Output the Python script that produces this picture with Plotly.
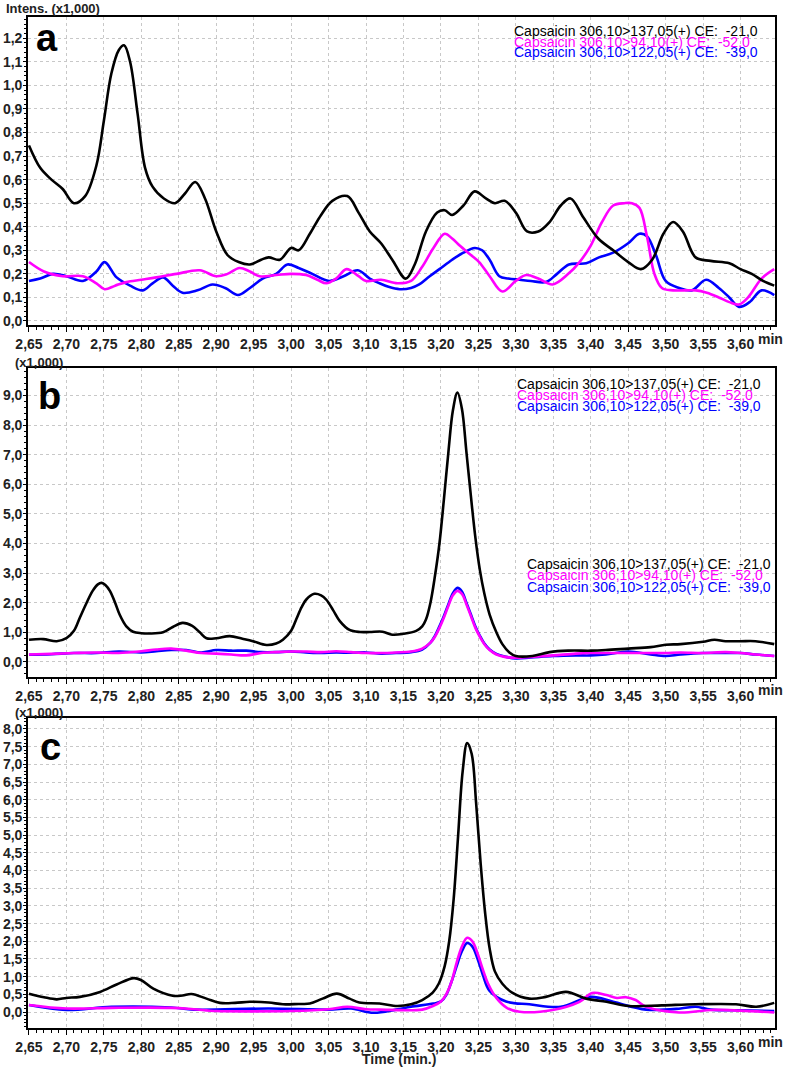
import plotly.graph_objects as go

W, H = 787, 1070

# ---------------- data (intensity in x1,000) ----------------
# Panel a
ta_k = [2.65,2.665,2.68,2.695,2.71,2.725,2.74,2.75,2.76,2.77,
        2.777,2.785,2.795,2.805,2.815,2.83,2.845,2.858,2.872,2.885,
        2.90,2.915,2.93,2.945,2.96,2.97,2.985,3.00,3.01,3.025,
        3.04,3.055,3.075,3.09,3.105,3.12,3.135,3.153,3.165,3.18,
        3.195,3.205,3.215,3.23,3.245,3.26,3.272,3.285,3.30,3.315,
        3.33,3.345,3.36,3.373,3.39,3.41,3.43,3.45,3.467,3.482,
        3.497,3.51,3.523,3.54,3.56,3.585,3.60,3.615,3.63,3.645]
va_k = [0.745,0.65,0.60,0.56,0.50,0.53,0.66,0.85,1.05,1.15,
        1.17,1.10,0.88,0.65,0.57,0.52,0.50,0.54,0.59,0.52,
        0.38,0.28,0.25,0.24,0.26,0.27,0.26,0.31,0.30,0.37,
        0.45,0.51,0.53,0.46,0.38,0.33,0.26,0.18,0.24,0.38,
        0.46,0.47,0.45,0.49,0.55,0.52,0.50,0.51,0.46,0.38,
        0.38,0.42,0.49,0.52,0.44,0.35,0.30,0.25,0.22,0.26,
        0.37,0.42,0.38,0.27,0.255,0.245,0.22,0.20,0.17,0.15]

ta_p = [2.65,2.67,2.695,2.722,2.74,2.751,2.765,2.78,2.80,2.82,
        2.847,2.878,2.90,2.915,2.931,2.945,2.958,2.98,3.00,3.02,
        3.035,3.047,3.06,3.074,3.09,3.10,3.12,3.142,3.16,3.175,
        3.19,3.205,3.215,3.225,3.24,3.251,3.265,3.282,3.30,3.314,
        3.33,3.349,3.37,3.385,3.40,3.415,3.43,3.445,3.455,3.465,
        3.475,3.485,3.495,3.51,3.54,3.555,3.571,3.585,3.598,3.61,
        3.628,3.645]
va_p = [0.25,0.21,0.19,0.19,0.16,0.135,0.15,0.165,0.175,0.185,
        0.20,0.215,0.19,0.20,0.225,0.21,0.19,0.195,0.20,0.195,
        0.175,0.16,0.18,0.22,0.19,0.17,0.175,0.16,0.17,0.23,
        0.31,0.37,0.35,0.32,0.28,0.25,0.19,0.125,0.17,0.195,
        0.18,0.155,0.20,0.25,0.32,0.42,0.49,0.50,0.50,0.48,
        0.36,0.20,0.14,0.13,0.13,0.12,0.10,0.08,0.07,0.10,
        0.18,0.22]

ta_b = [2.65,2.665,2.682,2.70,2.722,2.74,2.751,2.767,2.785,2.802,
        2.815,2.829,2.842,2.855,2.875,2.895,2.912,2.929,2.945,2.962,
        2.98,2.995,3.01,3.025,3.051,3.07,3.089,3.105,3.118,3.13,
        3.145,3.16,3.171,3.185,3.198,3.215,3.23,3.245,3.255,3.265,
        3.278,3.29,3.305,3.32,3.34,3.355,3.371,3.394,3.411,3.43,
        3.45,3.465,3.475,3.487,3.50,3.518,3.535,3.554,3.571,3.585,
        3.598,3.612,3.628,3.645]
va_b = [0.17,0.18,0.20,0.19,0.17,0.21,0.25,0.185,0.15,0.13,
        0.16,0.185,0.15,0.12,0.13,0.155,0.14,0.11,0.14,0.18,
        0.20,0.24,0.225,0.205,0.17,0.19,0.215,0.18,0.16,0.145,
        0.135,0.14,0.155,0.19,0.22,0.26,0.29,0.31,0.30,0.26,
        0.19,0.18,0.175,0.17,0.165,0.20,0.24,0.245,0.27,0.29,
        0.33,0.37,0.36,0.28,0.17,0.14,0.13,0.175,0.14,0.10,
        0.06,0.08,0.13,0.11]

# Panel b
tb_k = [2.65,2.669,2.687,2.70,2.71,2.718,2.727,2.735,2.742,2.747,
        2.752,2.758,2.765,2.771,2.78,2.789,2.80,2.811,2.829,2.842,
        2.855,2.868,2.878,2.887,2.90,2.918,2.935,2.949,2.967,2.98,
        2.989,3.0,3.007,3.014,3.02,3.031,3.04,3.047,3.056,3.065,
        3.078,3.092,3.105,3.122,3.135,3.15,3.167,3.175,3.18,3.186,
        3.192,3.198,3.204,3.21,3.216,3.222,3.228,3.234,3.24,3.246,
        3.252,3.258,3.265,3.274,3.282,3.291,3.30,3.322,3.345,3.37,
        3.40,3.42,3.45,3.48,3.50,3.52,3.55,3.565,3.58,3.60,
        3.62,3.645]
vb_k = [0.75,0.77,0.70,0.80,1.05,1.50,2.00,2.40,2.62,2.67,
        2.60,2.40,2.00,1.60,1.20,1.02,0.97,0.96,1.00,1.18,
        1.32,1.22,1.00,0.80,0.80,0.87,0.78,0.70,0.57,0.62,
        0.75,1.05,1.45,1.85,2.10,2.30,2.25,2.10,1.75,1.38,
        1.08,1.01,1.01,1.02,0.92,0.95,1.05,1.20,1.43,2.00,
        2.90,4.00,5.50,7.10,8.50,9.10,8.55,7.10,5.60,4.20,
        3.10,2.30,1.60,1.00,0.60,0.33,0.20,0.20,0.33,0.38,
        0.38,0.40,0.45,0.50,0.58,0.60,0.68,0.75,0.70,0.70,
        0.70,0.60]

tb_pb = [2.65,2.68,2.71,2.74,2.77,2.80,2.82,2.84,2.86,2.88,
         2.90,2.92,2.94,2.96,2.98,3.00,3.02,3.04,3.06,3.08,
         3.10,3.12,3.14,3.16,3.175,3.186,3.192,3.198,3.204,3.21,
         3.216,3.222,3.228,3.234,3.24,3.246,3.252,3.258,3.265,3.274,
         3.285,3.30,3.32,3.35,3.38,3.40,3.42,3.45,3.48,3.50,
         3.52,3.55,3.58,3.60,3.62,3.645]
vb_p = [0.25,0.27,0.30,0.32,0.30,0.36,0.42,0.45,0.38,0.30,
        0.28,0.25,0.22,0.30,0.33,0.35,0.35,0.33,0.36,0.33,
        0.30,0.30,0.32,0.35,0.45,0.65,0.85,1.15,1.50,1.90,
        2.25,2.40,2.30,1.95,1.55,1.15,0.85,0.60,0.40,0.25,
        0.17,0.14,0.17,0.22,0.28,0.30,0.30,0.30,0.30,0.30,
        0.32,0.30,0.33,0.30,0.25,0.20]
vb_b = [0.24,0.26,0.30,0.30,0.35,0.32,0.36,0.40,0.40,0.32,
        0.40,0.38,0.38,0.33,0.33,0.35,0.32,0.30,0.32,0.31,
        0.32,0.28,0.30,0.33,0.42,0.65,0.88,1.20,1.55,1.95,
        2.32,2.50,2.38,2.00,1.60,1.20,0.88,0.62,0.42,0.27,
        0.18,0.12,0.15,0.20,0.22,0.22,0.25,0.35,0.25,0.20,
        0.25,0.30,0.30,0.30,0.25,0.20]

# Panel c
tc_k = [2.65,2.67,2.687,2.70,2.718,2.745,2.767,2.79,2.80,2.816,
        2.842,2.855,2.867,2.887,2.905,2.925,2.945,2.97,2.989,3.01,
        3.025,3.042,3.061,3.078,3.091,3.118,3.142,3.16,3.175,3.189,
        3.197,3.205,3.211,3.217,3.223,3.229,3.235,3.241,3.247,3.253,
        3.259,3.265,3.272,3.282,3.295,3.318,3.34,3.367,3.394,3.421,
        3.451,3.495,3.54,3.594,3.621,3.645]
vc_k = [0.52,0.42,0.36,0.40,0.43,0.57,0.78,0.96,0.90,0.66,
        0.46,0.47,0.51,0.38,0.26,0.26,0.29,0.27,0.22,0.23,
        0.24,0.38,0.52,0.38,0.27,0.24,0.17,0.22,0.34,0.55,
        0.80,1.30,2.00,3.20,5.00,6.80,7.60,7.30,5.90,4.20,
        2.80,1.80,1.15,0.80,0.55,0.38,0.43,0.57,0.38,0.29,
        0.17,0.19,0.22,0.22,0.15,0.26]

tc_p = [2.65,2.70,2.76,2.84,2.87,2.90,2.95,3.00,3.05,3.075,
        3.10,3.118,3.175,3.19,3.20,3.207,3.214,3.221,3.228,3.235,
        3.242,3.249,3.256,3.263,3.274,3.288,3.305,3.349,3.385,3.402,
        3.421,3.435,3.447,3.46,3.474,3.518,3.562,3.60,3.645]
vc_p = [0.20,0.10,0.12,0.12,0.08,0.03,0.02,0.03,0.08,0.15,
        0.08,0.07,0.07,0.18,0.30,0.50,0.85,1.40,1.85,2.10,
        2.00,1.65,1.20,0.80,0.40,0.12,0.01,0.06,0.29,0.54,
        0.48,0.40,0.42,0.34,0.15,-0.01,0.06,0.04,-0.01]

tc_b = [2.65,2.70,2.76,2.84,2.87,2.97,3.05,3.08,3.11,3.14,
        3.16,3.19,3.20,3.207,3.214,3.221,3.228,3.235,3.242,3.249,
        3.256,3.265,3.287,3.318,3.36,3.40,3.43,3.474,3.52,3.54,
        3.56,3.60,3.645]
vc_b = [0.20,0.06,0.15,0.13,0.07,0.10,0.07,0.10,-0.02,0.07,
        0.15,0.24,0.30,0.48,0.85,1.30,1.72,1.95,1.85,1.50,
        1.05,0.60,0.30,0.22,0.15,0.43,0.29,0.07,0.10,0.15,
        0.07,0.05,0.03]

NB = "\u00a0"
legend_texts = ["Capsaicin 306,10>137,05(+)" + NB + "CE:" + NB + NB + "-21,0",
                "Capsaicin 306,10>94,10(+)" + NB + "CE:" + NB + NB + "-52,0",
                "Capsaicin 306,10>122,05(+)" + NB + "CE:" + NB + NB + "-39,0"]
colors = ["#000000", "#FF00FF", "#0000FF"]
panel_labels = ["a", "b", "c"]

# ---------------- layout helpers (reference pixel -> paper) ----------------
def px(x):
    return x / W

def py(y):
    return 1 - y / H

X0, X1 = 28, 775
panels = [
    dict(top=17, bot=325, yr=[-0.017, 1.29], dt=0.1, mdt=0.02),
    dict(top=368, bot=677, yr=[-0.51, 9.93], dt=1.0, mdt=0.2),
    dict(top=718, bot=1028, yr=[-0.45, 8.31], dt=0.5, mdt=0.1),
]

series = [
    [(ta_k, va_k), (ta_p, va_p), (ta_b, va_b)],
    [(tb_k, vb_k), (tb_pb, vb_p), (tb_pb, vb_b)],
    [(tc_k, vc_k), (tc_p, vc_p), (tc_b, vc_b)],
]

fig = go.Figure()
FONT = "Liberation Sans, Arial, sans-serif"
tickfont = dict(family=FONT, size=14, color="#222", weight="bold")

for i, p in enumerate(panels):
    xa = "x" if i == 0 else f"x{i+1}"
    ya = "y" if i == 0 else f"y{i+1}"
    for j in [2, 1, 0]:
        t, v = series[i][j]
        fig.add_trace(go.Scatter(x=t, y=v, mode="lines", xaxis=xa, yaxis=ya,
                                 line=dict(color=colors[j], width=2.6, shape="spline", smoothing=1.0),
                                 showlegend=False, hoverinfo="skip"))
    xkey = "xaxis" if i == 0 else f"xaxis{i+1}"
    ykey = "yaxis" if i == 0 else f"yaxis{i+1}"
    fig.layout[xkey] = dict(
        domain=[px(X0), px(X1)], anchor=ya, range=[2.6487, 3.646],
        tickmode="linear", tick0=2.65, dtick=0.05, tickformat=".2f",
        ticks="outside", ticklen=5, tickwidth=1, tickcolor="#000",
        minor=dict(ticks="outside", ticklen=3, dtick=0.01, tick0=2.65, tickcolor="#000", showgrid=False),
        showgrid=True, gridcolor="#c8c8c8", griddash="dot", gridwidth=1,
        showline=True, linecolor="#000", linewidth=1.6, mirror=True,
        tickfont=tickfont, zeroline=False, automargin=False,
    )
    fig.layout[ykey] = dict(
        domain=[py(p["bot"]), py(p["top"])], anchor=xa, range=p["yr"],
        tickmode="linear", tick0=0, dtick=p["dt"], tickformat=".1f",
        ticks="outside", ticklen=3, tickwidth=1, tickcolor="#000",
        minor=dict(ticks="outside", ticklen=2, dtick=p["mdt"], tick0=0, tickcolor="#000", showgrid=False),
        showgrid=True, gridcolor="#c8c8c8", griddash="dot", gridwidth=1,
        showline=True, linecolor="#000", linewidth=1.6, mirror=True,
        tickfont=tickfont, zeroline=False, automargin=False, ticklabelstandoff=-2,
    )

ann = []
ann.append(dict(text="Intens. (x1,000)", x=px(4), y=py(8.5), xanchor="left", yanchor="middle",
                font=dict(family=FONT, size=13, color="#222", weight="bold")))
for ytop in [362, 712]:
    ann.append(dict(text="(x1,000)", x=px(13), y=py(ytop), xanchor="left", yanchor="middle",
                    font=dict(family=FONT, size=13, color="#222", weight="bold")))
for ylab in [339, 690, 1042]:
    ann.append(dict(text="min", x=px(770), y=py(ylab), xanchor="center", yanchor="middle",
                    font=dict(family=FONT, size=14, color="#222", weight="bold")))
ann.append(dict(text="Time (min.)", x=px(399), y=py(1059), xanchor="center", yanchor="middle",
                font=dict(family=FONT, size=14, color="#222", weight="bold")))
for lab, (lx, ly, fs) in zip(panel_labels, [(47, 38, 38), (49, 396, 38), (50, 747, 38)]):
    ann.append(dict(text=lab, x=px(lx), y=py(ly), xanchor="center", yanchor="middle",
                    font=dict(family=FONT, size=fs, color="#000", weight="bold")))
for (lx, rows) in [(512, [31, 42, 52]), (515, [384, 395, 406]), (525, [564, 575, 587])]:
    for k in range(3):
        ann.append(dict(text=legend_texts[k], x=px(lx), y=py(rows[k]), xanchor="left", yanchor="middle",
                        font=dict(family=FONT, size=14, color=colors[k])))
for a in ann:
    a.update(xref="paper", yref="paper", showarrow=False)

fig.update_layout(width=W, height=H, margin=dict(l=0, r=0, t=0, b=0),
                  paper_bgcolor="white", plot_bgcolor="white",
                  separators=",.", annotations=ann, showlegend=False)

# place the figure at the page's top-left corner (remove the default body margin), no modebar
fig.write_html("out.html", config={"displayModeBar": False},
               post_script="document.body.style.margin='0px';")
